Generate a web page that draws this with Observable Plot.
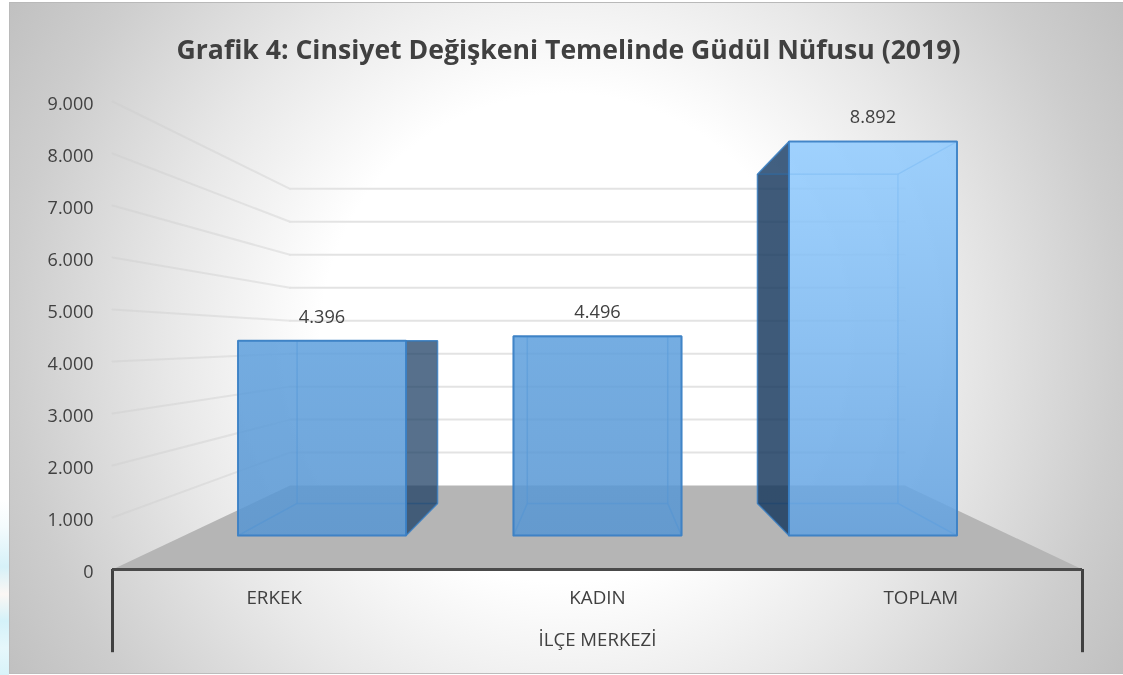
<!DOCTYPE html>
<html><head><meta charset="utf-8">
<script src="https://cdn.jsdelivr.net/npm/d3@7"></script>
<script src="https://cdn.jsdelivr.net/npm/@observablehq/plot@0.6"></script>
<style>
html,body{margin:0;padding:0;background:#fff}
#side{position:absolute;left:0;top:0;width:9px;height:675px;
 background:linear-gradient(180deg,#fff 0,#fff 74%,#f4fbfd 78%,#d6f1f8 84%,#fbf7f4 88%,#d4f2f9 92%,#e6f7fb 96%,#d8f3f9 100%)}
#wrap{position:absolute;left:9px;top:2px;width:1114px;height:672px;overflow:hidden;box-sizing:border-box;
 border-top:1px solid #b9b9b9;border-bottom:1px solid #bcbcbc;border-left:1px solid #bababa;
 background:radial-gradient(circle 660px at 555px 335px,#fff 0%,#fff 37%,#f3f3f3 49%,#e8e8e8 60%,#cdcdcd 84%,#bfbfbf 100%);}
#title{position:absolute;left:-3px;top:-7px;width:1123px;height:70px;text-align:center;
 font:700 26.6px/106px "Open Sans",sans-serif;color:#404040;filter:blur(.3px)}
#chart{position:absolute;left:-10px;top:67px}
svg{background:transparent!important;overflow:visible;filter:blur(.35px)}
</style></head><body>
<div id="side"></div>
<div id="wrap"><div id="title">Grafik 4: Cinsiyet Değişkeni Temelinde Güdül Nüfusu (2019)</div><div id="chart"></div></div>
<script>
const categories = ["ERKEK","KADIN","TOPLAM"];
const values = [4396,4496,8892];
const gridValues = [0,1000,2000,3000,4000,5000,6000,7000,8000,9000];
const groupLabel = "İLÇE MERKEZİ";

// perspective of the 3D chart box, in data units
const vanishX = 1, vanishY = 4412;
const depthBack = 0.634, barFront = 0.852, barBack = 0.712, barHalf = 0.305;
const P = (i, v, s) => ({x: vanishX + (i - vanishX) * s, y: vanishY + (v - vanishY) * s});
const fmt = v => d3.format(",")(v).replace(/,/g, ".");

const poly = (pts, o) => Plot.line([...pts, pts[0]], {x:"x", y:"y", curve:"linear", strokeLinejoin:"miter", ...o});

const box = (i, v) => {
  const a = i - barHalf, b = i + barHalf;
  return {
    floor: [P(a,0,barFront),P(b,0,barFront),P(b,0,barBack),P(a,0,barBack)],
    back:  [P(a,0,barBack),P(b,0,barBack),P(b,v,barBack),P(a,v,barBack)],
    left:  [P(a,0,barFront),P(a,0,barBack),P(a,v,barBack),P(a,v,barFront)],
    right: [P(b,0,barFront),P(b,0,barBack),P(b,v,barBack),P(b,v,barFront)],
    top:   [P(a,v,barFront),P(b,v,barFront),P(b,v,barBack),P(a,v,barBack)],
    front: [P(a,0,barFront),P(b,0,barFront),P(b,v,barFront),P(a,v,barFront)]
  };
};

const defs = () => {
  const ns = "http://www.w3.org/2000/svg";
  const d = document.createElementNS(ns,"defs");
  d.innerHTML = `<linearGradient id="barShort" gradientUnits="userSpaceOnUse" x1="0" y1="270" x2="0" y2="465">
    <stop offset="0" stop-color="#5fa0dd"/><stop offset="1" stop-color="#5896d2"/></linearGradient>
  <linearGradient id="barTall" gradientUnits="userSpaceOnUse" x1="0" y1="70" x2="0" y2="465">
    <stop offset="0" stop-color="#92ccff"/><stop offset="1" stop-color="#63a2e0"/></linearGradient>`;
  return d;
};

const marks = [defs];
marks.push(poly([P(-0.5,0,1),P(2.5,0,1),P(2.5,0,depthBack),P(-0.5,0,depthBack)], {fill:"#b5b5b5", stroke:"none"}));
gridValues.filter(v => v > 0).forEach(v => {
  marks.push(Plot.line([P(-0.5,v,1),P(-0.5,v,depthBack)], {x:"x",y:"y",stroke:"#cdcdcd",strokeWidth:2,strokeOpacity:.42}));
  marks.push(Plot.line([P(-0.5,v,depthBack),P(2.5,v,depthBack)], {x:"x",y:"y",stroke:"#e3e3e3",strokeWidth:2}));
});
values.forEach((v,i) => {
  const f = box(i,v);
  const edge = "#3a80c4";
  const grad = v > 6000 ? "url(#barTall)" : "url(#barShort)";
  const inner = {fill:"#5b9bd5", fillOpacity:.08, stroke:"#3f86cc", strokeOpacity:.4, strokeWidth:1.5};
  marks.push(poly(f.back, {fill:grad, fillOpacity:.08, stroke:"#3f86cc", strokeOpacity:.35, strokeWidth:1.5}));
  marks.push(poly(f.floor, {fill:"#5b9bd5", fillOpacity:.12, stroke:"#3f86cc", strokeOpacity:.4, strokeWidth:1.5}));
  marks.push(poly(f.left, i > vanishX ? {fill:"#16375c", fillOpacity:.82, stroke:edge, strokeOpacity:.7, strokeWidth:1.5} : inner));
  marks.push(poly(f.right, i < vanishX ? {fill:"#16375c", fillOpacity:.7, stroke:edge, strokeOpacity:.7, strokeWidth:1.5} : inner));
  marks.push(poly(f.top, {fill:"#5b9bd5", fillOpacity:.08, stroke:edge, strokeOpacity:.5, strokeWidth:1.2}));
  marks.push(poly(f.front, {fill:grad, fillOpacity:.85, stroke:edge, strokeOpacity:.9, strokeWidth:2}));
  marks.push(Plot.text([P(i,v,barFront)], {x:"x",y:"y",text:()=>fmt(v),dy:-24,fontSize:18.2,fill:"#404040",fontFamily:"Open Sans"}));
});
marks.push(Plot.ruleX([-0.5,2.5], {y1:0, y2:-1600, stroke:"#404040", strokeWidth:3}));
marks.push(Plot.ruleY([0], {x1:-0.5, x2:2.5, stroke:"#4a4a4a", strokeWidth:3}));
marks.push(Plot.axisY({ticks:gridValues, tickFormat:fmt, tickSize:0, tickPadding:19, dy:3, fontSize:18, label:null, fill:"#404040", marginLeft:112}));
marks.push(Plot.axisX({anchor:"bottom", ticks:[0,1,2], tickFormat:i=>categories[i], tickSize:0, tickPadding:21, fontSize:18.8, label:null, fill:"#404040"}));
marks.push(Plot.axisX({anchor:"bottom", ticks:[1], tickFormat:()=>groupLabel, tickSize:0, tickPadding:63, fontSize:18.6, label:null, fill:"#404040"}));

const chart = Plot.plot({
  width:1123, height:604, marginTop:31, marginBottom:105, marginLeft:112, marginRight:41,
  x:{domain:[-0.5,2.5]}, y:{domain:[0,9000]},
  style:{fontFamily:"Open Sans", background:"transparent", overflow:"visible"},
  marks
});
document.getElementById("chart").append(chart);
</script></body></html>
